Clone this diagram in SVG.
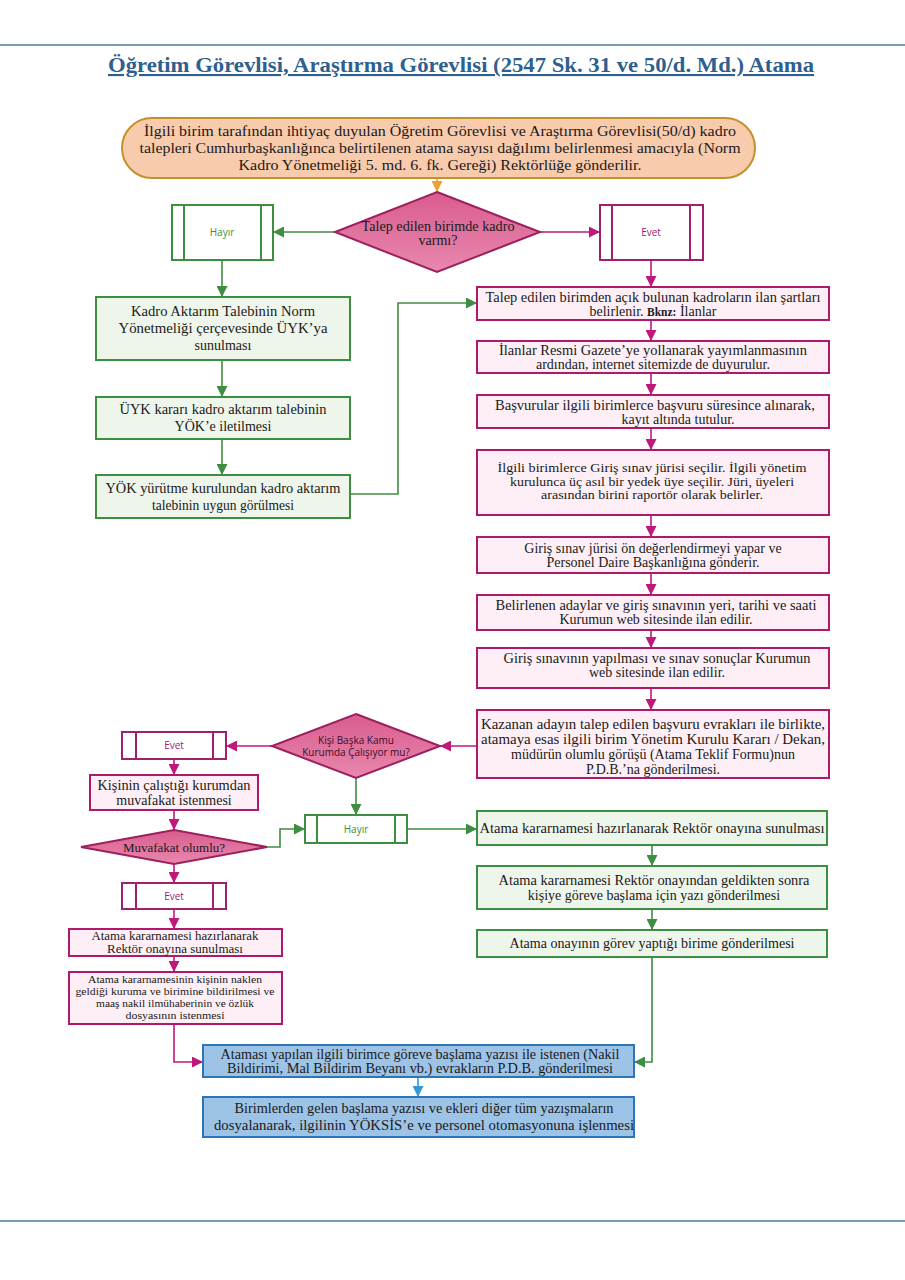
<svg xmlns="http://www.w3.org/2000/svg" width="905" height="1280" viewBox="0 0 905 1280">
<style>
.t{font-family:"Liberation Serif","Times New Roman",serif;font-size:14px;fill:#1a1a1a;text-anchor:middle}
.s{font-family:"Open Sans","Liberation Sans",sans-serif;font-size:10px;text-anchor:middle}
.pk{fill:#FDEFF5;stroke:#B0186A;stroke-width:2}
.gr{fill:#EEF5EB;stroke:#3E8E41;stroke-width:2}
.bl{fill:#9DC3E6;stroke:#2E75B6;stroke-width:2}
.pkb{fill:#fff;stroke:#A0206E;stroke-width:2}
.grb{fill:#fff;stroke:#3E8E41;stroke-width:2}
.dm{fill:url(#dg);stroke:#9E1F5E;stroke-width:2}
.cg{fill:none;stroke:#3E8E41;stroke-width:1.6;marker-end:url(#ag)}
.cm{fill:none;stroke:#C0187A;stroke-width:1.6;marker-end:url(#am)}
.co{fill:none;stroke:#F0A030;stroke-width:1.6;marker-end:url(#ao)}
.cb{fill:none;stroke:#2E9AD6;stroke-width:1.6;marker-end:url(#ab)}
</style>
<defs>
<linearGradient id="dg" x1="0" y1="0" x2="0" y2="1"><stop offset="0" stop-color="#D95C8E"/><stop offset="1" stop-color="#E888AE"/></linearGradient>
<marker id="ag" viewBox="0 0 10 10" refX="10" refY="5" markerWidth="11" markerHeight="11" markerUnits="userSpaceOnUse" orient="auto"><path d="M0,0 L10,5 L0,10 z" fill="#3E8E41"/></marker>
<marker id="am" viewBox="0 0 10 10" refX="10" refY="5" markerWidth="11" markerHeight="11" markerUnits="userSpaceOnUse" orient="auto"><path d="M0,0 L10,5 L0,10 z" fill="#C0187A"/></marker>
<marker id="ao" viewBox="0 0 10 10" refX="10" refY="5" markerWidth="11" markerHeight="11" markerUnits="userSpaceOnUse" orient="auto"><path d="M0,0 L10,5 L0,10 z" fill="#F0A030"/></marker>
<marker id="ab" viewBox="0 0 10 10" refX="10" refY="5" markerWidth="11" markerHeight="11" markerUnits="userSpaceOnUse" orient="auto"><path d="M0,0 L10,5 L0,10 z" fill="#2E9AD6"/></marker>
</defs>
<rect width="905" height="1280" fill="#fff"/>
<line x1="0" y1="45" x2="905" y2="45" stroke="#4A7BA0" stroke-width="1.6"/>
<line x1="0" y1="1221" x2="905" y2="1221" stroke="#4A7BA0" stroke-width="1.6"/>
<text x="461" y="72" font-family="Liberation Serif,serif" font-size="21" font-weight="bold" fill="#2F5F8F" text-anchor="middle" text-decoration="underline" textLength="706" lengthAdjust="spacingAndGlyphs">Öğretim Görevlisi, Araştırma Görevlisi (2547 Sk. 31 ve 50/d. Md.) Atama</text>

<g id="connectors">
<path class="co" d="M437,178 V192"/>
<path class="cg" d="M335,232 H273"/>
<path class="cm" d="M540,232 H600"/>
<path class="cg" d="M222,260 V297"/>
<path class="cg" d="M222,360 V397"/>
<path class="cg" d="M222,439 V475"/>
<path class="cg" d="M350,494 H398 V303 H477"/>
<path class="cm" d="M651,260 V287"/>
<path class="cm" d="M651,320 V341"/>
<path class="cm" d="M651,373 V395"/>
<path class="cm" d="M651,428 V450"/>
<path class="cm" d="M651,515 V537"/>
<path class="cm" d="M651,573 V595"/>
<path class="cm" d="M651,630 V648"/>
<path class="cm" d="M651,688 V710"/>
<path class="cm" d="M477,746 H440"/>
<path class="cm" d="M272,746 H226"/>
<path class="cm" d="M174,759 V775"/>
<path class="cm" d="M174,810 V830"/>
<path class="cg" d="M267,847 H280 V829 H305"/>
<path class="cg" d="M356,778 V815"/>
<path class="cg" d="M407,829 H477"/>
<path class="cg" d="M652,845 V866"/>
<path class="cg" d="M652,909 V930"/>
<path class="cg" d="M652,957 V1062 H634"/>
<path class="cm" d="M174,864 V883"/>
<path class="cm" d="M174,909 V929"/>
<path class="cm" d="M174,956 V972"/>
<path class="cm" d="M174,1024 V1062 H203"/>
<path class="cb" d="M418,1077 V1097"/>
</g>

<g id="start">
<rect x="122" y="118" width="633" height="60" rx="30" fill="#F8CBAD" stroke="#C4902A" stroke-width="2"/>
<text class="t" style="font-size:14.5px" x="440" y="136" textLength="592" lengthAdjust="spacingAndGlyphs">İlgili birim tarafından ihtiyaç duyulan Öğretim Görevlisi ve Araştırma Görevlisi(50/d) kadro</text>
<text class="t" style="font-size:14.5px" x="440" y="153" textLength="601" lengthAdjust="spacingAndGlyphs">talepleri Cumhurbaşkanlığınca belirtilenen atama sayısı dağılımı belirlenmesi amacıyla (Norm</text>
<text class="t" style="font-size:14.5px" x="440" y="170" textLength="403" lengthAdjust="spacingAndGlyphs">Kadro Yönetmeliği 5. md. 6. fk. Gereği) Rektörlüğe gönderilir.</text>
</g>

<g id="dec1">
<polygon class="dm" points="437,192 540,232 437,272 335,232"/>
<text class="t" x="438" y="231" textLength="153" lengthAdjust="spacingAndGlyphs">Talep edilen birimde kadro</text>
<text class="t" x="438" y="245">varmı?</text>
</g>

<g id="hayir1">
<rect class="grb" x="172" y="205" width="101" height="55"/>
<line x1="184" y1="205" x2="184" y2="260" stroke="#3E8E41" stroke-width="2"/>
<line x1="261" y1="205" x2="261" y2="260" stroke="#3E8E41" stroke-width="2"/>
<text class="s" x="222" y="236" fill="#3E8E41">Hayır</text>
</g>

<g id="evet1">
<rect class="pkb" x="600" y="205" width="103" height="55"/>
<line x1="612" y1="205" x2="612" y2="260" stroke="#A0206E" stroke-width="2"/>
<line x1="690" y1="205" x2="690" y2="260" stroke="#A0206E" stroke-width="2"/>
<text class="s" x="651" y="236" fill="#A0206E">Evet</text>
</g>

<g id="g1">
<rect class="gr" x="96" y="297" width="254" height="63"/>
<text class="t" style="font-size:14.5px" x="223" y="316" textLength="184" lengthAdjust="spacingAndGlyphs">Kadro Aktarım Talebinin Norm</text>
<text class="t" style="font-size:14.5px" x="223" y="333" textLength="209" lengthAdjust="spacingAndGlyphs">Yönetmeliği çerçevesinde ÜYK’ya</text>
<text class="t" x="223" y="350">sunulması</text>
</g>
<g id="g2">
<rect class="gr" x="96" y="397" width="254" height="42"/>
<text class="t" style="font-size:14.5px" x="223" y="414" textLength="207" lengthAdjust="spacingAndGlyphs">ÜYK kararı kadro aktarım talebinin</text>
<text class="t" x="223" y="431">YÖK’e iletilmesi</text>
</g>
<g id="g3">
<rect class="gr" x="96" y="475" width="254" height="43"/>
<text class="t" style="font-size:14.5px" x="223" y="492.5" textLength="235" lengthAdjust="spacingAndGlyphs">YÖK yürütme kurulundan kadro aktarım</text>
<text class="t" style="font-size:14.5px" x="223" y="509.5" textLength="142" lengthAdjust="spacingAndGlyphs">talebinin uygun görülmesi</text>
</g>

<g id="p1">
<rect class="pk" x="477" y="287" width="352" height="33"/>
<text class="t" x="653" y="301.5" textLength="335" lengthAdjust="spacingAndGlyphs">Talep edilen birimden açık bulunan kadroların ilan şartları</text>
<text class="t" x="653" y="315.5">belirlenir. <tspan font-weight="bold" style="font-size:11.5px">Bknz:</tspan> İlanlar</text>
</g>
<g id="p2">
<rect class="pk" x="477" y="341" width="352" height="32"/>
<text class="t" x="653" y="355" textLength="308" lengthAdjust="spacingAndGlyphs">İlanlar Resmi Gazete’ye yollanarak yayımlanmasının</text>
<text class="t" x="653" y="369">ardından, internet sitemizde de duyurulur.</text>
</g>
<g id="p3">
<rect class="pk" x="477" y="395" width="352" height="33"/>
<text class="t" x="655" y="409.5" textLength="320" lengthAdjust="spacingAndGlyphs">Başvurular ilgili birimlerce başvuru süresince alınarak,</text>
<text class="t" x="678" y="423.5">kayıt altında tutulur.</text>
</g>
<g id="p4">
<rect class="pk" x="477" y="450" width="352" height="65"/>
<text class="t" style="font-size:13px" x="652" y="472" textLength="309" lengthAdjust="spacingAndGlyphs">İlgili birimlerce Giriş sınav jürisi seçilir. İlgili yönetim</text>
<text class="t" style="font-size:13px" x="652" y="485.5" textLength="284" lengthAdjust="spacingAndGlyphs">kurulunca üç asıl bir yedek üye seçilir. Jüri, üyeleri</text>
<text class="t" style="font-size:13px" x="652" y="499" textLength="222" lengthAdjust="spacingAndGlyphs">arasından birini raportör olarak belirler.</text>
</g>
<g id="p5">
<rect class="pk" x="477" y="537" width="352" height="36"/>
<text class="t" x="653" y="553">Giriş sınav jürisi ön değerlendirmeyi yapar ve</text>
<text class="t" x="653" y="567">Personel Daire Başkanlığına gönderir.</text>
</g>
<g id="p6">
<rect class="pk" x="477" y="595" width="352" height="35"/>
<text class="t" x="656" y="610" textLength="321" lengthAdjust="spacingAndGlyphs">Belirlenen adaylar ve giriş sınavının yeri, tarihi ve saati</text>
<text class="t" x="656" y="624">Kurumun web sitesinde ilan edilir.</text>
</g>
<g id="p7">
<rect class="pk" x="477" y="648" width="352" height="40"/>
<text class="t" x="657" y="663" textLength="307" lengthAdjust="spacingAndGlyphs">Giriş sınavının yapılması ve sınav sonuçlar Kurumun</text>
<text class="t" x="657" y="677">web sitesinde ilan edilir.</text>
</g>
<g id="p8">
<rect class="pk" x="477" y="710" width="352" height="68"/>
<text class="t" x="653" y="728.5" textLength="344" lengthAdjust="spacingAndGlyphs">Kazanan adayın talep edilen başvuru evrakları ile birlikte,</text>
<text class="t" x="653" y="743.5" textLength="344" lengthAdjust="spacingAndGlyphs">atamaya esas ilgili birim Yönetim Kurulu Kararı / Dekan,</text>
<text class="t" x="653" y="758.5">müdürün olumlu görüşü (Atama Teklif Formu)nun</text>
<text class="t" x="653" y="773.5">P.D.B.’na gönderilmesi.</text>
</g>

<g id="dec2">
<polygon class="dm" points="356,714 440,746 356,778 272,746"/>
<text class="s" x="356" y="743.5" fill="#3a1028">Kişi Başka Kamu</text>
<text class="s" x="356" y="755.5" fill="#3a1028">Kurumda Çalışıyor mu?</text>
</g>

<g id="evet2">
<rect class="pkb" x="122" y="732" width="104" height="27"/>
<line x1="136" y1="732" x2="136" y2="759" stroke="#A0206E" stroke-width="2"/>
<line x1="213" y1="732" x2="213" y2="759" stroke="#A0206E" stroke-width="2"/>
<text class="s" x="174" y="749" fill="#A0206E">Evet</text>
</g>

<g id="muv">
<rect class="pk" x="90" y="775" width="168" height="35"/>
<text class="t" x="174" y="790" textLength="153" lengthAdjust="spacingAndGlyphs">Kişinin çalıştığı kurumdan</text>
<text class="t" x="174" y="805">muvafakat istenmesi</text>
</g>

<g id="dec3">
<polygon class="dm" points="174,830 267,847 174,864 81,847"/>
<text class="t" style="font-size:13px" x="174" y="851.5">Muvafakat olumlu?</text>
</g>

<g id="hayir2">
<rect class="grb" x="305" y="815" width="102" height="28"/>
<line x1="317" y1="815" x2="317" y2="843" stroke="#3E8E41" stroke-width="2"/>
<line x1="395" y1="815" x2="395" y2="843" stroke="#3E8E41" stroke-width="2"/>
<text class="s" x="356" y="832.5" fill="#3E8E41">Hayır</text>
</g>

<g id="evet3">
<rect class="pkb" x="122" y="883" width="104" height="26"/>
<line x1="136" y1="883" x2="136" y2="909" stroke="#A0206E" stroke-width="2"/>
<line x1="213" y1="883" x2="213" y2="909" stroke="#A0206E" stroke-width="2"/>
<text class="s" x="174" y="899.5" fill="#A0206E">Evet</text>
</g>

<g id="l1">
<rect class="pk" x="69" y="929" width="213" height="27"/>
<text class="t" style="font-size:12px" x="175" y="940" textLength="167" lengthAdjust="spacingAndGlyphs">Atama kararnamesi hazırlanarak</text>
<text class="t" style="font-size:12px" x="175" y="953" textLength="136" lengthAdjust="spacingAndGlyphs">Rektör onayına sunulması</text>
</g>
<g id="l2">
<rect class="pk" x="69" y="972" width="213" height="52"/>
<text class="t" style="font-size:10.2px" x="175" y="983" textLength="174" lengthAdjust="spacingAndGlyphs">Atama kararnamesinin kişinin naklen</text>
<text class="t" style="font-size:10.2px" x="175" y="995" textLength="199" lengthAdjust="spacingAndGlyphs">geldiği kuruma ve birimine bildirilmesi ve</text>
<text class="t" style="font-size:10.2px" x="175" y="1007" textLength="158" lengthAdjust="spacingAndGlyphs">maaş nakil ilmühaberinin ve özlük</text>
<text class="t" style="font-size:10.2px" x="175" y="1019" textLength="99" lengthAdjust="spacingAndGlyphs">dosyasının istenmesi</text>
</g>

<g id="r1">
<rect class="gr" x="477" y="811" width="350" height="34"/>
<text class="t" x="652" y="833" textLength="345" lengthAdjust="spacingAndGlyphs">Atama kararnamesi hazırlanarak Rektör onayına sunulması</text>
</g>
<g id="r2">
<rect class="gr" x="477" y="866" width="350" height="43"/>
<text class="t" x="654" y="884.5" textLength="311" lengthAdjust="spacingAndGlyphs">Atama kararnamesi Rektör onayından geldikten sonra</text>
<text class="t" x="654" y="900">kişiye göreve başlama için yazı gönderilmesi</text>
</g>
<g id="r3">
<rect class="gr" x="477" y="930" width="350" height="27"/>
<text class="t" x="652" y="948" textLength="285" lengthAdjust="spacingAndGlyphs">Atama onayının görev yaptığı birime gönderilmesi</text>
</g>

<g id="b1">
<rect class="bl" x="203" y="1045" width="431" height="32"/>
<text class="t" x="420" y="1059" textLength="399" lengthAdjust="spacingAndGlyphs">Ataması yapılan ilgili birimce göreve başlama yazısı ile istenen (Nakil</text>
<text class="t" x="420" y="1073" textLength="386" lengthAdjust="spacingAndGlyphs">Bildirimi, Mal Bildirim Beyanı vb.)  evrakların P.D.B. gönderilmesi</text>
</g>
<g id="b2">
<rect class="bl" x="203" y="1097" width="431" height="40"/>
<text class="t" x="424" y="1112.5" textLength="379" lengthAdjust="spacingAndGlyphs">Birimlerden gelen başlama yazısı ve ekleri diğer tüm yazışmaların</text>
<text class="t" x="424" y="1130" textLength="420" lengthAdjust="spacingAndGlyphs">dosyalanarak, ilgilinin YÖKSİS’e ve personel otomasyonuna işlenmesi</text>
</g>
</svg>
